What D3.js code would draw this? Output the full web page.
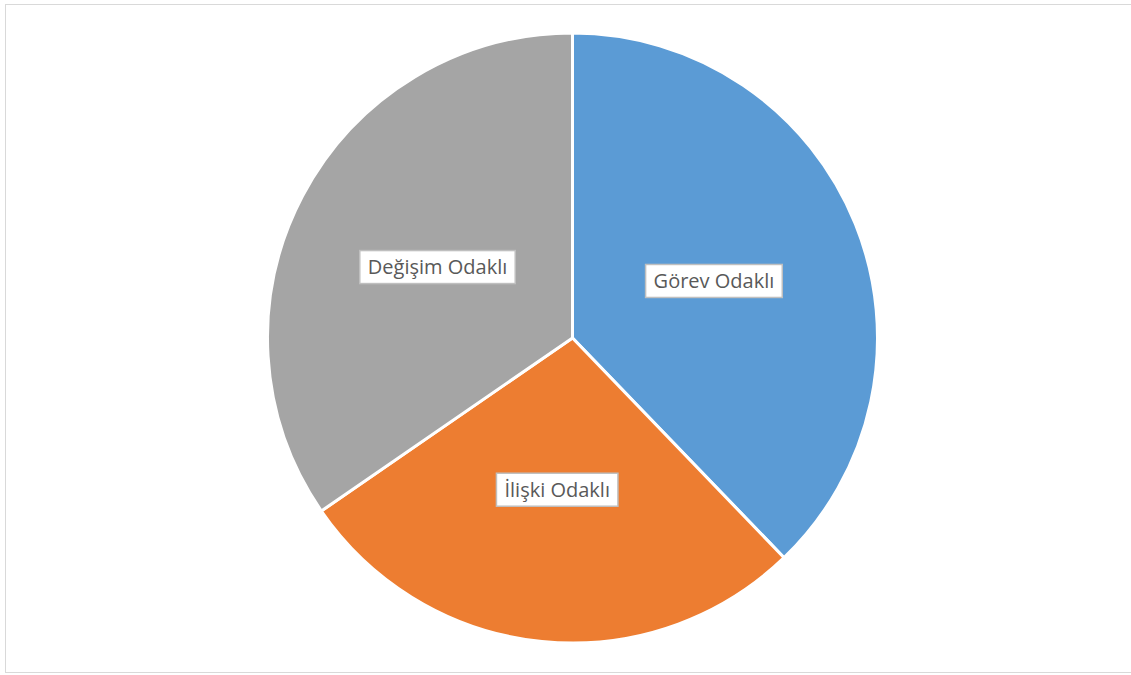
<!DOCTYPE html>
<html>
<head>
<meta charset="utf-8">
<script src="https://cdn.jsdelivr.net/npm/d3@7"></script>
<style>
  body { margin: 0; background: #fff; }
  text { font-family: "Open Sans", "Liberation Sans", sans-serif; }
</style>
</head>
<body>
<div id="chart"></div>
<script>
// Data (share of the pie, %)
const categories = ["Görev Odaklı", "İlişki Odaklı", "Değişim Odaklı"];
const values = [37.8, 27.6, 34.6];
const colors = ["#5B9BD5", "#ED7D31", "#A5A5A5"];

const width = 1131, height = 675;
const cx = 572.5, cy = 338, radius = 305;

const svg = d3.select("#chart").append("svg")
    .attr("width", width)
    .attr("height", height);

// chart area border
svg.append("rect")
    .attr("x", 5.5).attr("y", 4.5)
    .attr("width", width - 5).attr("height", 668)
    .attr("fill", "#fff")
    .attr("stroke", "#D9D9D9");

const data = categories.map((c, i) => ({ name: c, value: values[i], color: colors[i] }));

const pie = d3.pie().sort(null).value(d => d.value);
const arc = d3.arc().innerRadius(0).outerRadius(radius);
const labelArc = d3.arc().innerRadius(radius * 0.5).outerRadius(radius * 0.5);

const g = svg.append("g").attr("transform", `translate(${cx},${cy})`);

const arcs = pie(data);

g.selectAll("path.slice")
    .data(arcs)
    .join("path")
    .attr("class", "slice")
    .attr("d", arc)
    .attr("fill", d => d.data.color)
    .attr("stroke", "#fff")
    .attr("stroke-width", 3);

// labels with white boxes
const labels = g.selectAll("g.label")
    .data(arcs)
    .join("g")
    .attr("class", "label")
    .attr("transform", d => `translate(${labelArc.centroid(d)})`);

labels.append("text")
    .attr("text-anchor", "middle")
    .attr("dy", "0.35em")
    .attr("font-size", 20)
    .attr("fill", "#595959")
    .text(d => d.data.name);

labels.each(function () {
    const gg = d3.select(this);
    const bb = gg.select("text").node().getBBox();
    gg.insert("rect", "text")
        .attr("x", bb.x - 8).attr("y", -16.5)
        .attr("width", bb.width + 16).attr("height", 33)
        .attr("fill", "#fff")
        .attr("stroke", "#BFBFBF")
        .attr("stroke-width", 1.5);
});
</script>
</body>
</html>
